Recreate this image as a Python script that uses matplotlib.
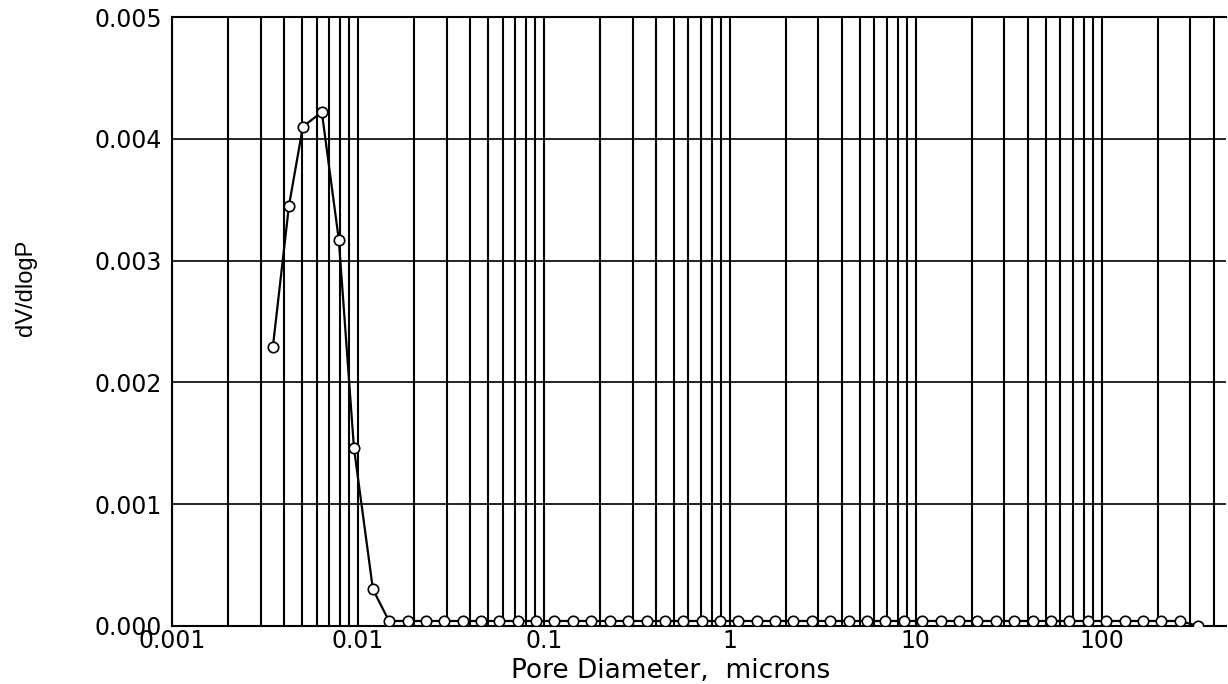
import matplotlib
matplotlib.use("Agg")
import matplotlib.pyplot as plt
from matplotlib.ticker import LogLocator, FixedLocator, FormatStrFormatter, NullFormatter

# pore diameter (microns) and dV/dlogP
diameter = [0.00349, 0.00426, 0.00506, 0.0064, 0.0079, 0.00953, 0.01205,
            0.0147, 0.0185, 0.0232, 0.0291, 0.0366, 0.0459, 0.0575, 0.0723,
            0.0908, 0.114, 0.143, 0.180, 0.226, 0.284, 0.357, 0.448, 0.561,
            0.705, 0.885, 1.11, 1.40, 1.75, 2.20, 2.77, 3.48, 4.37, 5.47,
            6.87, 8.63, 10.8, 13.6, 17.1, 21.5, 27.0, 33.9, 42.6, 53.3,
            67.0, 84.1, 106, 133, 167, 209, 263, 330]
dvdlogp = [0.00229, 0.00345, 0.00410, 0.00422, 0.00317, 0.00146, 0.00030,
           0.00004, 0.00004, 0.00004, 0.00004, 0.00004, 0.00004, 0.00004, 0.00004,
           0.00004, 0.00004, 0.00004, 0.00004, 0.00004, 0.00004, 0.00004, 0.00004, 0.00004,
           0.00004, 0.00004, 0.00004, 0.00004, 0.00004, 0.00004, 0.00004, 0.00004, 0.00004, 0.00004,
           0.00004, 0.00004, 0.00004, 0.00004, 0.00004, 0.00004, 0.00004, 0.00004, 0.00004, 0.00004,
           0.00004, 0.00004, 0.00004, 0.00004, 0.00004, 0.00004, 0.00004, 0.0]

x_ticks = [0.001, 0.01, 0.1, 1, 10, 100]
x_ticklabels = ["0.001", "0.01", "0.1", "1", "10", "100"]
y_ticks = [0.0, 0.001, 0.002, 0.003, 0.004, 0.005]

fig = plt.figure(figsize=(12.28, 6.84), dpi=100)
ax = fig.add_axes([0.140, 0.085, 0.858, 0.890])

ax.set_xscale("log")
ax.set_xlim(0.001, 464)
ax.set_ylim(0, 0.005)

ax.plot(diameter, dvdlogp, color="black", linewidth=1.6, marker="o",
        markersize=7.5, markerfacecolor="white", markeredgecolor="black",
        markeredgewidth=1.2, zorder=3)

ax.xaxis.set_major_locator(FixedLocator(x_ticks))
ax.set_xticklabels(x_ticklabels)
ax.xaxis.set_minor_locator(LogLocator(base=10, subs=range(2, 10), numticks=20))
ax.xaxis.set_minor_formatter(NullFormatter())
ax.set_yticks(y_ticks)
ax.yaxis.set_major_formatter(FormatStrFormatter("%.3f"))

ax.grid(True, which="both", axis="x", color="black", linewidth=1.5)
ax.grid(True, which="major", axis="y", color="black", linewidth=1.2)
ax.set_axisbelow(True)

ax.tick_params(axis="both", which="both", length=0, labelsize=17)
ax.tick_params(axis="x", pad=2)
ax.tick_params(axis="y", pad=7)

for side in ["left", "bottom", "top"]:
    ax.spines[side].set_linewidth(1.5)
ax.spines["right"].set_visible(False)

ax.set_xlabel("Pore Diameter,  microns", fontsize=19)
ax.xaxis.set_label_coords(0.473, -0.052)
ax.set_ylabel("dV/dlogP", fontsize=17, family="Liberation Sans")
ax.yaxis.set_label_coords(-0.128, 0.555)

fig.savefig("out.png", dpi=100)
